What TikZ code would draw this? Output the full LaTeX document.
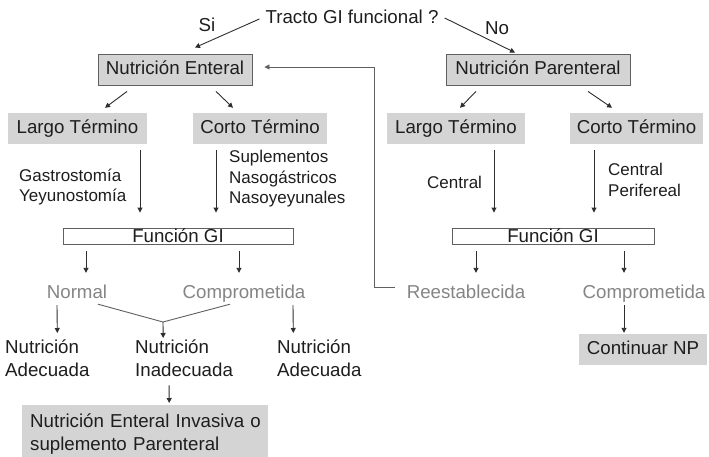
\documentclass[tikz,border=0pt]{standalone}
\usepackage{fontspec}
\setmainfont{Liberation Sans}
\usetikzlibrary{arrows.meta,calc}
\definecolor{boxgray}{HTML}{D4D4D4}
\definecolor{txt}{HTML}{1E1E1E}
\definecolor{lbl}{HTML}{858585}
\definecolor{edge}{HTML}{2E2E2E}
\definecolor{frame}{HTML}{606060}
\begin{document}
\begin{tikzpicture}[x=1pt,y=-1pt,
 every node/.style={inner sep=0pt, text=txt, font=\fontsize{18.7}{23}\selectfont},
 big/.style={fill=boxgray, draw=frame, line width=0.9pt, minimum height=31pt, text height=13.5pt, text depth=3.5pt},
 flat/.style={fill=boxgray, minimum height=31pt, text height=13.5pt, text depth=3.5pt},
 fbox/.style={draw=frame, fill=white, line width=0.9pt, minimum height=16pt, text height=13pt, text depth=1pt},
 glabel/.style={text=lbl, text height=13.5pt, text depth=3.5pt},
 small/.style={font=\fontsize{17}{20.5}\selectfont, align=left},
 arr/.style={draw=edge, line width=0.9pt, -{Triangle[length=5pt,width=5pt]}},
 ln/.style={draw=frame, line width=0.9pt}]
\useasboundingbox (0,0) rectangle (709,457);
\fill[white] (0,0) rectangle (709,457);

\node (q) at (352,17) {Tracto GI funcional ?};
\node (si) at (207,25) {Si};
\node (no) at (497,28) {No};
\node[big, minimum width=154pt] (ne) at (175,69.5) {Nutrición Enteral};
\node[big, minimum width=184pt] (np) at (538,69.5) {Nutrición Parenteral};
\node[flat, minimum width=139pt] (lt1) at (77.5,128.5) {Largo Término};
\node[flat, minimum width=134pt] (ct1) at (260,128.5) {Corto Término};
\node[flat, minimum width=138pt] (lt2) at (456,128.5) {Largo Término};
\node[flat, minimum width=133pt] (ct2) at (636.5,128.5) {Corto Término};

\node[small, anchor=west] (gas) at (19,187) {Gastrostomía\\Yeyunostomía};
\node[small, anchor=west] (sup) at (229,179) {Suplementos\\Nasogástricos\\Nasoyeyunales};
\node[small, anchor=west] (cen) at (427,182) {Central};
\node[small, anchor=west] (cp) at (608,180) {Central\\Perifereal};

\node[fbox, minimum width=230pt] (f1) at (178,236) {Función GI};
\node[fbox, minimum width=202pt] (f2) at (553,236) {Función GI};

\node[glabel] (nor) at (77,293) {Normal};
\node[glabel] (cm1) at (244,293) {Comprometida};
\node[glabel] (re) at (466,293) {Reestablecida};
\node[glabel] (cm2) at (644,293) {Comprometida};

\node[align=left, anchor=north west] (na1) at (5,340) {Nutrición\\Adecuada};
\node[align=left, anchor=north west] (ni) at (135,340) {Nutrición\\Inadecuada};
\node[align=left, anchor=north west] (na2) at (277,340) {Nutrición\\Adecuada};
\node[flat, minimum width=128pt] (cnp) at (643,349.5) {Continuar NP};
\node[fill=boxgray, anchor=north west, minimum height=58pt, align=left, text width=246pt, inner xsep=0pt] (fin) at (22,405) {\hspace*{8pt}Nutrición Enteral Invasiva o\\\hspace*{8pt}suplemento Parenteral};

% connectors
\draw[arr] ([shift={(-6,2)}]q.west) -- ([shift={(20,-6)}]ne.north);
\draw[arr] ([shift={(6,1)}]q.east) -- ([shift={(-23,-1)}]np.north);
\draw[arr] ([shift={(-48,6)}]ne.south) -- ([shift={(27.5,-5)}]lt1.north);
\draw[arr] ([shift={(41,6)}]ne.south) -- ([shift={(-27,-5)}]ct1.north);
\draw[arr] ([shift={(-62,6)}]np.south) -- ([shift={(4,-5)}]lt2.north);
\draw[arr] ([shift={(50,6)}]np.south) -- ([shift={(-24.5,-5)}]ct2.north);
\draw[arr] ([shift={(62.5,6)}]lt1.south) -- ([shift={(-38,-15)}]f1.north);
\draw[arr] ([shift={(-44,6)}]ct1.south) -- ([shift={(38,-15)}]f1.north);
\draw[arr] ([shift={(38,6)}]lt2.south) -- ([shift={(-59,-15)}]f2.north);
\draw[arr] ([shift={(-42.5,6)}]ct2.south) -- ([shift={(41,-15)}]f2.north);

\draw[arr] ([shift={(-92,7)}]f1.south) -- ([shift={(9,-11.5)}]nor.north);
\draw[arr] ([shift={(61,7)}]f1.south) -- ([shift={(-5,-11.5)}]cm1.north);
\draw[arr] ([shift={(-77,7)}]f2.south) -- ([shift={(10,-11.5)}]re.north);
\draw[arr] ([shift={(71,7)}]f2.south) -- ([shift={(-20,-11.5)}]cm2.north);

\draw[arr] ([shift={(-20,3.5)}]nor.south) -- ([shift={(10,-7)}]na1.north);
\draw[arr] ([shift={(49,3.5)}]cm1.south) -- ([shift={(-26,-7)}]na2.north);
\coordinate (vj) at (163,322);
\draw[ln] ([shift={(21,2.5)}]nor.south) -- (vj) -- ([shift={(-14,2.5)}]cm1.south);
\draw[arr] (vj) -- ([shift={(-20.9,-2)}]ni.north);
\draw[arr] ([shift={(-14.9,8)}]ni.south) -- ([shift={(24,-2)}]fin.north);
\draw[arr] ([shift={(-20,3.5)}]cm2.south) -- ([shift={(-19,-1)}]cnp.north);

\draw[arr, draw=frame] ([shift={(-12,-6)}]re.west) -- ++(-20,0) |- ([shift={(12,-2.5)}]ne.east);
\end{tikzpicture}
\end{document}
